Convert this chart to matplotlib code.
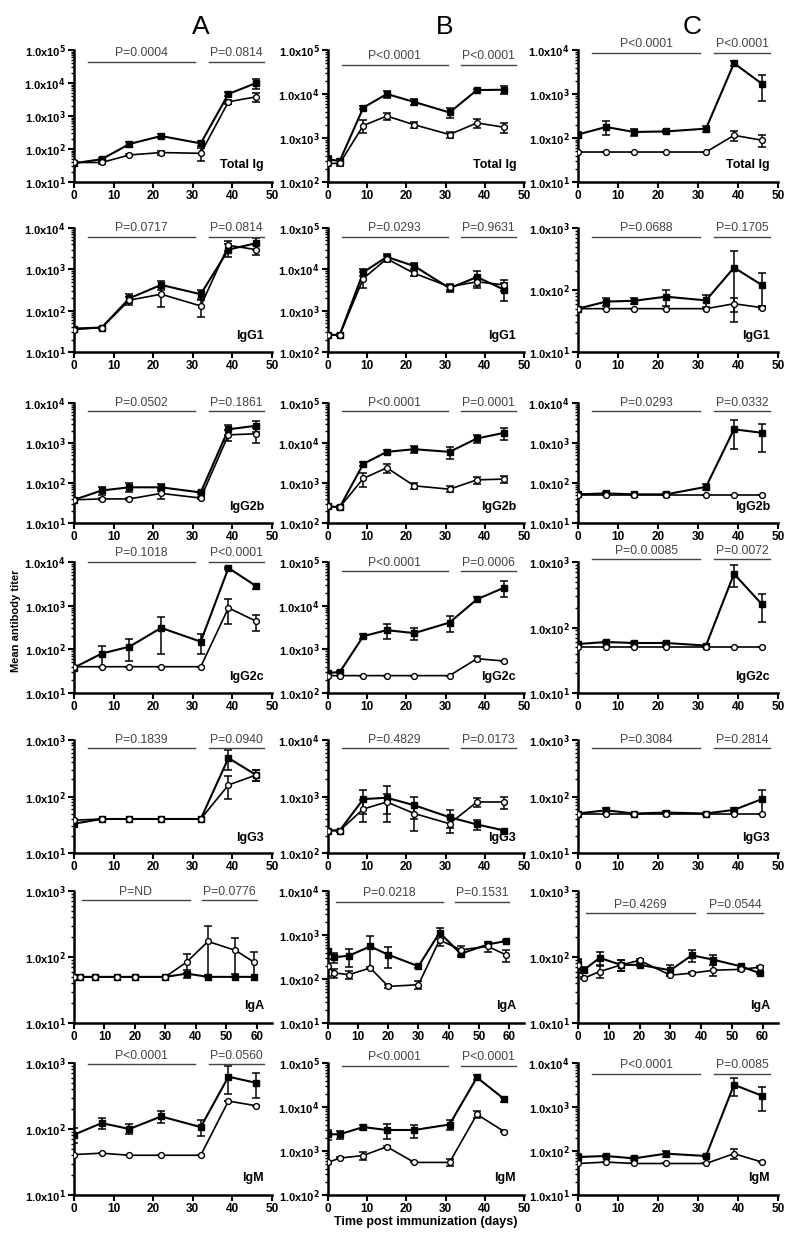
import matplotlib.pyplot as plt
from matplotlib.ticker import LogLocator, NullFormatter

plt.rcParams['font.family'] = ['Liberation Sans', 'DejaVu Sans']

# time points (days)
t_ac = [0, 7, 14, 22, 32, 39, 46]
t_b = [0, 3, 9, 15, 22, 31, 38, 45]
t_iga = [0, 2, 7, 14, 20, 30, 37, 44, 53, 59]

# ---- Total Ig ----
tot_a_f = [37, 49, 142, 247, 148, 4650, 10000]
tot_a_fe = [4, 5, 25, 35, 25, 700, 3500]
tot_a_o = [39, 39, 66, 78, 74, 2700, 3800]
tot_a_oe = [4, 3, 6, 12, 30, 400, 1200]
tot_b_f = [330, 300, 4900, 10000, 6600, 3800, 12300, 12500]
tot_b_fe = [60, 40, 400, 2000, 900, 1000, 1000, 2500]
tot_b_o = [265, 265, 1920, 3150, 2000, 1200, 2200, 1750]
tot_b_oe = [30, 30, 650, 600, 300, 200, 500, 450]
tot_c_f = [120, 178, 137, 141, 163, 5000, 1700]
tot_c_fe = [20, 60, 25, 10, 25, 600, 1000]
tot_c_o = [48, 48, 48, 48, 48, 115, 89]
tot_c_oe = [0, 0, 0, 0, 0, 30, 25]

# ---- IgG1 ----
g1_a_f = [37, 39, 200, 420, 250, 3000, 4300]
g1_a_fe = [3, 2, 50, 100, 70, 1000, 1300]
g1_a_o = [35, 39, 180, 250, 130, 3800, 3000]
g1_a_oe = [3, 2, 40, 130, 60, 1000, 800]
g1_b_f = [260, 260, 8500, 20000, 12000, 3500, 6500, 3200]
g1_b_fe = [20, 20, 1500, 3000, 2000, 600, 2500, 1500]
g1_b_o = [260, 260, 6000, 18000, 8000, 3800, 5000, 4200]
g1_b_oe = [20, 20, 2500, 3000, 1000, 600, 1500, 1200]
g1_c_f = [50, 65, 67, 78, 68, 230, 120]
g1_c_fe = [0, 10, 8, 22, 15, 200, 65]
g1_c_o = [50, 50, 50, 50, 50, 60, 52]
g1_c_oe = [0, 0, 0, 0, 0, 15, 3]

# ---- IgG2b ----
g2b_a_f = [38, 65, 78, 78, 58, 2200, 2700]
g2b_a_fe = [3, 15, 20, 15, 5, 600, 800]
g2b_a_o = [38, 40, 40, 55, 42, 1600, 1700]
g2b_a_oe = [2, 3, 3, 15, 3, 500, 700]
g2b_b_f = [260, 250, 3000, 6000, 7000, 6000, 13000, 18000]
g2b_b_fe = [20, 20, 300, 800, 1500, 2000, 3000, 6000]
g2b_b_o = [260, 250, 1300, 2400, 850, 700, 1200, 1250]
g2b_b_oe = [20, 20, 500, 600, 150, 120, 250, 250]
g2b_c_f = [52, 55, 52, 52, 80, 2200, 1800]
g2b_c_fe = [3, 5, 2, 3, 15, 1500, 1200]
g2b_c_o = [50, 50, 50, 50, 50, 50, 50]
g2b_c_oe = [0, 0, 0, 0, 0, 0, 0]

# ---- IgG2c ----
g2c_a_f = [38, 80, 115, 310, 150, 7300, 2800]
g2c_a_fe = [2, 40, 60, 230, 70, 500, 400]
g2c_a_o = [40, 40, 40, 40, 40, 890, 440]
g2c_a_oe = [0, 0, 0, 0, 0, 500, 180]
g2c_b_f = [290, 300, 2000, 2750, 2350, 4100, 14000, 26000]
g2c_b_fe = [30, 20, 300, 1000, 700, 1600, 2000, 10000]
g2c_b_o = [250, 250, 250, 250, 250, 250, 610, 540]
g2c_b_oe = [0, 0, 0, 0, 0, 0, 80, 0]
g2c_c_f = [56, 60, 58, 58, 53, 660, 225]
g2c_c_fe = [3, 3, 2, 3, 2, 240, 105]
g2c_c_o = [51, 51, 51, 51, 51, 51, 51]
g2c_c_oe = [0, 0, 0, 0, 0, 0, 0]

# ---- IgG3 ----
g3_a_f = [33, 40, 40, 40, 40, 480, 240]
g3_a_fe = [4, 0, 0, 0, 0, 180, 50]
g3_a_o = [38, 40, 40, 40, 40, 160, 240]
g3_a_oe = [2, 0, 0, 0, 0, 70, 50]
g3_b_f = [250, 250, 900, 950, 700, 430, 320, 250]
g3_b_fe = [10, 10, 400, 600, 300, 150, 60, 10]
g3_b_o = [250, 250, 600, 800, 500, 330, 800, 800]
g3_b_oe = [10, 10, 250, 300, 250, 100, 150, 200]
g3_c_f = [50, 57, 50, 52, 50, 58, 90]
g3_c_fe = [3, 5, 2, 3, 2, 5, 40]
g3_c_o = [50, 50, 50, 50, 50, 50, 50]
g3_c_oe = [0, 0, 0, 0, 0, 0, 0]

# ---- IgA ----
iga_a_f = [50, 50, 50, 50, 50, 50, 56, 50, 50, 50]
iga_a_fe = [0, 0, 0, 0, 0, 0, 8, 0, 0, 0]
iga_a_o = [50, 50, 50, 50, 50, 50, 84, 172, 126, 84]
iga_a_oe = [0, 0, 0, 0, 0, 0, 26, 118, 70, 34]
iga_b_f = [425, 310, 340, 550, 355, 195, 1130, 375, 610, 730]
iga_b_fe = [60, 80, 150, 380, 180, 15, 300, 60, 40, 30]
iga_b_o = [200, 137, 126, 178, 68, 74, 770, 460, 550, 355]
iga_b_oe = [80, 30, 25, 10, 6, 15, 200, 100, 140, 110]
iga_c_f = [79, 64, 97, 76, 76, 63, 106, 91, 72, 57]
iga_c_fe = [10, 6, 22, 14, 4, 12, 22, 15, 3, 2]
iga_c_o = [75, 48, 60, 76, 89, 53, 57, 63, 65, 70]
iga_c_oe = [18, 2, 12, 14, 3, 2, 2, 12, 3, 2]

# ---- IgM ----
igm_a_f = [82, 123, 100, 155, 107, 620, 500]
igm_a_fe = [20, 23, 17, 30, 28, 280, 200]
igm_a_o = [41, 43, 40, 40, 40, 265, 225]
igm_a_oe = [0, 0, 0, 0, 0, 0, 0]
igm_b_f = [2400, 2400, 3500, 3000, 3000, 4000, 47000, 15000]
igm_b_fe = [600, 500, 500, 1100, 1000, 1000, 5000, 2000]
igm_b_o = [550, 690, 790, 1250, 550, 550, 6800, 2750]
igm_b_oe = [40, 30, 160, 80, 0, 100, 1200, 100]
igm_c_f = [73, 77, 68, 87, 77, 3200, 1800]
igm_c_fe = [13, 3, 5, 13, 4, 1400, 1000]
igm_c_o = [52, 56, 52, 52, 52, 87, 56]
igm_c_oe = [0, 0, 0, 0, 0, 22, 0]

isotypes = ['Total Ig', 'IgG1', 'IgG2b', 'IgG2c', 'IgG3', 'IgA', 'IgM']

p_values = [
    [('P=0.0004', 'P=0.0814'), ('P<0.0001', 'P<0.0001'), ('P<0.0001', 'P<0.0001')],
    [('P=0.0717', 'P=0.0814'), ('P=0.0293', 'P=0.9631'), ('P=0.0688', 'P=0.1705')],
    [('P=0.0502', 'P=0.1861'), ('P<0.0001', 'P=0.0001'), ('P=0.0293', 'P=0.0332')],
    [('P=0.1018', 'P<0.0001'), ('P<0.0001', 'P=0.0006'), ('P=0.0.0085', 'P=0.0072')],
    [('P=0.1839', 'P=0.0940'), ('P=0.4829', 'P=0.0173'), ('P=0.3084', 'P=0.2814')],
    [('P=ND', 'P=0.0776'), ('P=0.0218', 'P=0.1531'), ('P=0.4269', 'P=0.0544')],
    [('P<0.0001', 'P=0.0560'), ('P<0.0001', 'P<0.0001'), ('P<0.0001', 'P=0.0085')],
]

# y-axis decades (min exp, max exp)
y_decades = [
    [(1, 5), (2, 5), (1, 4)],
    [(1, 4), (2, 5), (1, 3)],
    [(1, 4), (2, 5), (1, 4)],
    [(1, 4), (2, 5), (1, 3)],
    [(1, 3), (2, 4), (1, 3)],
    [(1, 3), (1, 4), (1, 3)],
    [(1, 3), (2, 5), (1, 4)],
]

series = [
    [(t_ac, tot_a_f, tot_a_fe, tot_a_o, tot_a_oe), (t_b, tot_b_f, tot_b_fe, tot_b_o, tot_b_oe), (t_ac, tot_c_f, tot_c_fe, tot_c_o, tot_c_oe)],
    [(t_ac, g1_a_f, g1_a_fe, g1_a_o, g1_a_oe), (t_b, g1_b_f, g1_b_fe, g1_b_o, g1_b_oe), (t_ac, g1_c_f, g1_c_fe, g1_c_o, g1_c_oe)],
    [(t_ac, g2b_a_f, g2b_a_fe, g2b_a_o, g2b_a_oe), (t_b, g2b_b_f, g2b_b_fe, g2b_b_o, g2b_b_oe), (t_ac, g2b_c_f, g2b_c_fe, g2b_c_o, g2b_c_oe)],
    [(t_ac, g2c_a_f, g2c_a_fe, g2c_a_o, g2c_a_oe), (t_b, g2c_b_f, g2c_b_fe, g2c_b_o, g2c_b_oe), (t_ac, g2c_c_f, g2c_c_fe, g2c_c_o, g2c_c_oe)],
    [(t_ac, g3_a_f, g3_a_fe, g3_a_o, g3_a_oe), (t_b, g3_b_f, g3_b_fe, g3_b_o, g3_b_oe), (t_ac, g3_c_f, g3_c_fe, g3_c_o, g3_c_oe)],
    [(t_iga, iga_a_f, iga_a_fe, iga_a_o, iga_a_oe), (t_iga, iga_b_f, iga_b_fe, iga_b_o, iga_b_oe), (t_iga, iga_c_f, iga_c_fe, iga_c_o, iga_c_oe)],
    [(t_ac, igm_a_f, igm_a_fe, igm_a_o, igm_a_oe), (t_b, igm_b_f, igm_b_fe, igm_b_o, igm_b_oe), (t_ac, igm_c_f, igm_c_fe, igm_c_o, igm_c_oe)],
]

# ---- layout (pixels) ----
W, H = 800, 1242
col_px = [(74, 198), (328, 196), (578, 200)]
row_px = [(50, 182), (228, 352), (403, 523), (562, 693), (740, 853), (891, 1023), (1063, 1195)]
bar_y = [
    [0.91, 0.89, 0.98],
    [0.93, 0.93, 0.93],
    [0.93, 0.93, 0.93],
    [1.0, 0.93, 1.02],
    [0.93, 0.93, 0.93],
    [0.93, 0.92, 0.83],
    [0.99, 0.98, 0.92],
]

fig = plt.figure(figsize=(W / 100, H / 100), dpi=100)


def sup(n):
    return r'1.0x10$^{\mathbf{%d}}$' % n


for r in range(7):
    for c in range(3):
        left, width = col_px[c]
        top, bottom = row_px[r]
        ax = fig.add_axes([left / W, 1 - bottom / H, width / W, (bottom - top) / H])
        t, f, fe, o, oe = series[r][c]
        lo, hi = y_decades[r][c]

        # GraphPad style: mean +/- SEM on a log axis
        fe_lo = [min(e, v * 0.9) for e, v in zip(fe, f)]
        oe_lo = [min(e, v * 0.9) for e, v in zip(oe, o)]
        ax.errorbar(t, f, yerr=[fe_lo, fe], fmt='none', ecolor='black', elinewidth=1.1, capsize=3, capthick=1.1, zorder=2)
        ax.errorbar(t, o, yerr=[oe_lo, oe], fmt='none', ecolor='black', elinewidth=1.1, capsize=3, capthick=1.1, zorder=2)
        ax.plot(t, f, color='black', lw=1.5, marker='s', ms=4.8, mfc='black', mec='black', zorder=3)
        ax.plot(t, o, color='black', lw=1.2, marker='o', ms=4.2, mfc='white', mec='black', mew=1, zorder=4)

        ax.set_yscale('log')
        ax.set_ylim(10 ** lo, 10 ** hi)
        iga = (r == 5)
        ax.set_xlim(0, 65 if iga else 50)
        ax.set_xticks(range(0, 61 if iga else 51, 10))
        ax.set_yticks([10 ** k for k in range(lo, hi + 1)])
        ax.set_yticklabels([sup(k) for k in range(lo, hi + 1)])
        ax.yaxis.set_minor_locator(LogLocator(base=10, subs=range(2, 10), numticks=20))
        ax.yaxis.set_minor_formatter(NullFormatter())

        for s in ['top', 'right']:
            ax.spines[s].set_visible(False)
        for s in ['left', 'bottom']:
            ax.spines[s].set_linewidth(1.8)
        ax.tick_params(axis='both', which='major', length=4, width=1.5, labelsize=8, pad=2)
        ax.tick_params(axis='x', which='major', labelsize=8.5)
        ax.tick_params(axis='y', which='minor', length=2.5, width=1)
        ax.tick_params(axis='x', which='minor', length=0)
        for lab in ax.get_xticklabels() + ax.get_yticklabels():
            lab.set_fontweight('bold')

        ax.text(0.96, 0.08, isotypes[r], transform=ax.transAxes, ha='right', va='bottom',
                fontsize=9, fontweight='bold')

        # p-value bars
        by = bar_y[r][c]
        segs = [(2.5, 38), (42, 60)] if iga else [(3.5, 30.5), (34, 48)]
        trans = ax.get_xaxis_transform()
        for (x0, x1), ptxt in zip(segs, p_values[r][c]):
            ax.plot([x0, x1], [by, by], transform=trans, color='#444444', lw=1, clip_on=False)
            ax.text((x0 + x1) / 2, by + 0.02, ptxt, transform=trans, ha='center', va='bottom',
                    fontsize=8.8, color='#444444', clip_on=False)

for lab, xp in zip(['A', 'B', 'C'], [201, 445, 692]):
    fig.text(xp / W, 1 - 27 / H, lab, ha='center', va='center', fontsize=19)

fig.text(16 / W, 1 - 621 / H, 'Mean antibody titer', rotation=90, ha='center', va='center',
         fontsize=8, fontweight='bold')
fig.text(426 / W, 1 - 1222 / H, 'Time post immunization (days)', ha='center', va='center',
         fontsize=9, fontweight='bold')

fig.savefig('out.png', dpi=100)
